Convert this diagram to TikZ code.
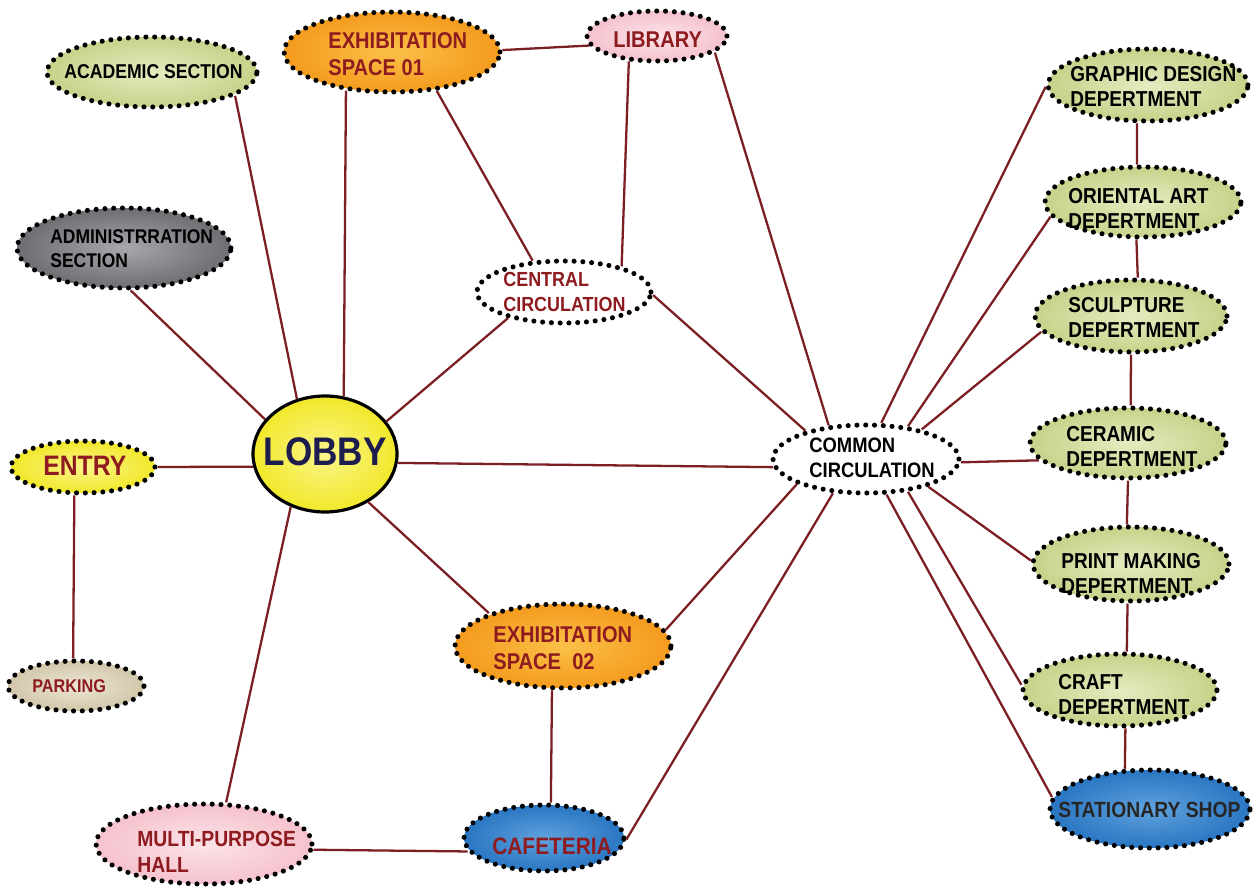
\documentclass[tikz,border=0pt]{standalone}
\usepackage{fontspec}
\usetikzlibrary{shapes.geometric}
\newfontfamily\labfont[FakeStretch=0.88]{Liberation Sans}
\newcommand\fs[2]{\fontsize{#1}{#2}\selectfont}

\definecolor{linkred}{HTML}{7B1F24}
\definecolor{txtred}{HTML}{8E1B1F}
\definecolor{txtnavy}{HTML}{1C1C4E}
\definecolor{grnO}{HTML}{C6D38A}\definecolor{grnI}{HTML}{E5EBC0}
\definecolor{orgO}{HTML}{F49B1E}\definecolor{orgI}{HTML}{FBC048}
\definecolor{pnkO}{HTML}{F5C2CD}\definecolor{pnkI}{HTML}{FCE3E8}
\definecolor{gryO}{HTML}{6D6E72}\definecolor{gryI}{HTML}{A6A8AB}
\definecolor{ylwO}{HTML}{F1E82A}\definecolor{ylwI}{HTML}{FBF58A}
\definecolor{begO}{HTML}{D2C7AA}\definecolor{begI}{HTML}{EBE5D3}
\definecolor{bluO}{HTML}{2A76C2}\definecolor{bluI}{HTML}{5FA2DD}

\tikzset{
  bubble/.style 2 args={ellipse, inner sep=0pt,
    minimum width=#1*0.04cm, minimum height=#2*0.04cm,
    draw=black, line width=2.9pt, line cap=round,
    dash pattern=on 0pt off 5pt},
  green/.style={inner color=grnI, outer color=grnO},
  orange/.style={inner color=orgI, outer color=orgO},
  pink/.style={inner color=pnkI, outer color=pnkO},
  grey/.style={inner color=gryI, outer color=gryO},
  yellow/.style={inner color=ylwI, outer color=ylwO},
  beige/.style={inner color=begI, outer color=begO},
  blue/.style={inner color=bluI, outer color=bluO},
  plain/.style={fill=white},
  lbl/.style 2 args={anchor=west, align=left, inner sep=0pt,
    font=\labfont\bfseries\fs{#1}{#2}},
  link/.style={draw=linkred, line width=1.3pt},
}

\begin{document}
\begin{tikzpicture}[x=0.02cm, y=-0.02cm]
\fill[white] (0,0) rectangle (1257,888);
\useasboundingbox (0,0) rectangle (1257,888);

% ---------- spaces (rx, ry in px) ----------
\node[bubble={105}{35}, green]  (acad)    at (152,72)  {};
\node[bubble={108}{40}, orange] (exhA)    at (392,52)  {};
\node[bubble={70}{25},  pink]   (lib)     at (657,36)  {};
\node[bubble={107}{40}, grey]   (admin)   at (124,248) {};
\node[bubble={87}{31},  plain]  (central) at (564,292) {};
\node[ellipse, inner sep=0pt, minimum width=144*0.02cm, minimum height=116*0.02cm,
      draw=black, line width=1.8pt, inner color=ylwI, outer color=ylwO]
                                (lobby)   at (325,454) {};
\node[bubble={72}{26},  yellow] (entry)   at (83,467)  {};
\node[bubble={68}{25},  beige]  (park)    at (76,686)  {};
\node[bubble={93}{34},  plain]  (common)  at (866,459) {};
\node[bubble={108}{42}, orange] (exhB)    at (563,646) {};
\node[bubble={108}{40}, pink]   (multi)   at (204,844) {};
\node[bubble={80}{33},  blue]   (cafe)    at (544,838) {};
\node[bubble={100}{36}, green]  (graph)   at (1148,85) {};
\node[bubble={98}{35},  green]  (orient)  at (1143,202) {};
\node[bubble={96}{36},  green]  (sculpt)  at (1131,316) {};
\node[bubble={98}{35},  green]  (ceram)   at (1128,443) {};
\node[bubble={98}{37},  green]  (print)   at (1131,564) {};
\node[bubble={97}{36},  green]  (craft)   at (1120,690) {};
\node[bubble={100}{39}, blue]   (shop)    at (1150,809) {};

% ---------- links ----------
\draw[link] (lobby.117.8) -- (acad.-16.4);
\draw[link] (lobby.72.5)  -- (exhA.220.2);
\draw[link] (lobby.150.5) -- (admin.-81.3);
\draw[link] (lobby.28.4)  -- (central.205.4);
\draw[link] (lobby.190.2) -- (entry.0);
\draw[link] (lobby.-7.9)  -- (common.185.5);
\draw[link] (lobby.-48.7) -- (exhB.156.4);
\draw[link] (lobby.237.6) -- (multi.62.9);
\draw[link] (entry.253)   -- (park.96.8);
\draw[link] (exhA.1)      -- (lib.188.2);
\draw[link] (exhA.-41.3)  -- (central.135);
\draw[link] (lib.222.6)   -- (central.24.3);
\draw[link] (lib.-16)     -- (common.138.4);
\draw[link] (central.-2)  -- (common.155);
\draw[link] (common.67)   -- (graph.181);
\draw[link] (common.38.5) -- (orient.189.4);
\draw[link] (common.28.8) -- (sculpt.190);
\draw[link] (common.-2.5) -- (ceram.191.6);
\draw[link] (common.-24.6)-- (print.178.8);
\draw[link] (common.-38.5)-- (craft.177.6);
\draw[link] (common.-60)  -- (shop.173.2);
\draw[link] (common.200.9)-- (exhB.9.6);
\draw[link] (common.226.8)-- (cafe.-1.5);
\draw[link] (exhB.256.6)  -- (cafe.79.7);
\draw[link] (multi.-3.2)  -- (cafe.190.6);
\draw[link] (graph.254.5) -- (orient.99.7);
\draw[link] (orient.260.3)-- (sculpt.80.5);
\draw[link] (sculpt.270)  -- (ceram.86.7);
\draw[link] (ceram.270)   -- (print.96.2);
\draw[link] (print.265.4) -- (craft.80.5);
\draw[link] (craft.278)   -- (shop.122.7);

% ---------- labels ----------
\node[lbl={11.4pt}{14pt},   text=black]  (acad-t)    at (64,72)   {ACADEMIC SECTION};
\node[lbl={13pt}{15.3pt},   text=txtred] (exhA-t)    at (328,54)  {EXHIBITATION\\SPACE 01};
\node[lbl={13pt}{15pt},     text=txtred] (lib-t)     at (613,40)  {LIBRARY};
\node[lbl={11.3pt}{13.6pt}, text=black]  (admin-t)   at (50,249)  {ADMINISTRRATION\\SECTION};
\node[lbl={11.6pt}{14.2pt}, text=txtred] (central-t) at (503,292) {CENTRAL\\CIRCULATION};
\node[anchor=center, inner sep=0pt, font=\labfont\bfseries\fs{22.7pt}{26pt}, text=txtnavy]
                                         (lobby-t)   at (325,452) {LOBBY};
\node[lbl={16pt}{19pt},     text=txtred] (entry-t)   at (43,466)  {ENTRY};
\node[lbl={10.5pt}{12pt},   text=txtred] (park-t)    at (32,686)  {PARKING};
\node[lbl={11.9pt}{14.2pt}, text=black]  (common-t)  at (809,458) {COMMON\\CIRCULATION};
\node[lbl={13pt}{15.3pt},   text=txtred] (exhB-t)    at (493,648) {EXHIBITATION\\SPACE\ \ 02};
\node[lbl={12.5pt}{14.7pt}, text=txtred] (multi-t)   at (137,852) {MULTI-PURPOSE\\HALL};
\node[lbl={13.5pt}{15pt},   text=txtred] (cafe-t)    at (492,846) {CAFETERIA};
\node[lbl={12.3pt}{14.2pt}, text=black]  (graph-t)   at (1070,86) {GRAPHIC DESIGN\\DEPERTMENT};
\node[lbl={12.3pt}{14.2pt}, text=black]  (orient-t)  at (1068,208){ORIENTAL ART\\DEPERTMENT};
\node[lbl={12.3pt}{14.2pt}, text=black]  (sculpt-t)  at (1068,317){SCULPTURE\\DEPERTMENT};
\node[lbl={12.3pt}{14.2pt}, text=black]  (ceram-t)   at (1066,446){CERAMIC\\DEPERTMENT};
\node[lbl={12.3pt}{14.2pt}, text=black]  (print-t)   at (1061,573){PRINT MAKING\\DEPERTMENT};
\node[lbl={12.3pt}{14.2pt}, text=black]  (craft-t)   at (1058,694){CRAFT\\DEPERTMENT};
\node[lbl={12.5pt}{14.5pt}, text=black!85] (shop-t)  at (1058,810){STATIONARY SHOP};
\end{tikzpicture}
\end{document}
